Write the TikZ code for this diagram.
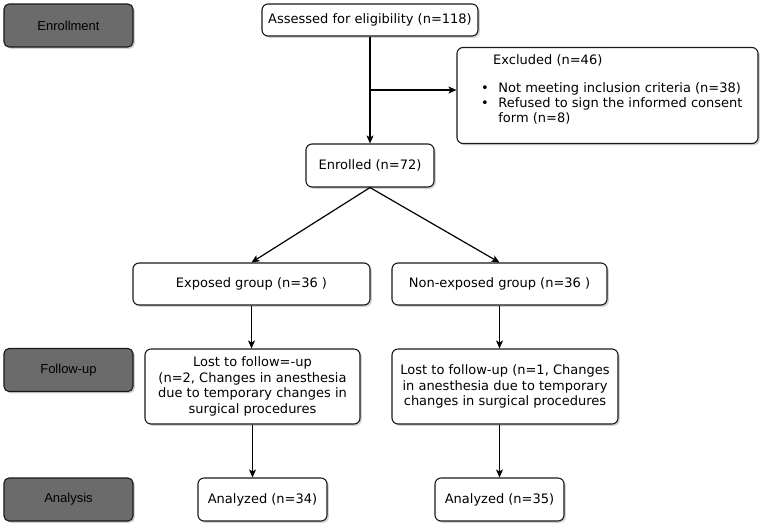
\documentclass[tikz,border=0pt]{standalone}
\usepackage{fontspec}
\setmainfont{DejaVu Sans}
\newfontfamily\arialfont{Liberation Sans}
\usetikzlibrary{shadows,arrows.meta}
\definecolor{phasegray}{HTML}{6B6B6B}
\tikzset{
  base/.style={draw=black!90, line width=1.1pt, rounded corners=6pt, align=center, inner sep=2pt,
    drop shadow={opacity=0.35, shadow xshift=1.8pt, shadow yshift=-1.8pt}},
  box/.style={base, fill=white, font=\fontsize{13}{16}\selectfont},
  phase/.style={base, fill=phasegray, rounded corners=5pt, minimum width=129pt, minimum height=43pt,
    font=\arialfont\fontsize{13}{15}\selectfont},
  arr/.style={line width=1.2pt, -{Stealth[length=8pt,width=7pt,inset=2pt]}}
}
\begin{document}
\begin{tikzpicture}[x=1pt,y=-1pt]
\useasboundingbox (0,0) rectangle (767,531);
% phase labels
\node[phase] (enr) at (68.5,25.5) {Enrollment};
\node[phase] (fu)  at (68.5,370) {Follow-up};
\node[phase] (ana) at (68.5,499.5) {Analysis};
% flow boxes
\node[box, minimum width=216pt, minimum height=32pt] (assess) at (370,20) {Assessed for eligibility (n=118)};
\node[box, minimum width=301pt, minimum height=96pt] (excl) at (607.5,95.5) {};
\node[anchor=north west, inner sep=0pt, font=\fontsize{13}{15}\selectfont, align=left] (excltxt) at (481,54)
  {\begin{tabular}{@{}l@{\hspace{9.5pt}}l@{}}
   \multicolumn{2}{@{}l}{\hspace{12pt}Excluded (n=46)}\\[13pt]
   \textbullet & Not meeting inclusion criteria (n=38)\\
   \textbullet & Refused to sign the informed consent\\
   & form (n=8)
   \end{tabular}};
\node[box, minimum width=128pt, minimum height=43pt] (enrolled) at (370,165.5) {Enrolled (n=72)};
\node[box, minimum width=237pt, minimum height=42pt] (exposed) at (251.5,284) {Exposed group (n=36 )};
\node[box, minimum width=215pt, minimum height=75pt, font=\fontsize{13}{15.5}\selectfont] (lostL) at (252.5,386.5)
  {Lost to follow=-up\\(n=2, Changes in anesthesia\\due to temporary changes in\\surgical procedures};
\node[box, minimum width=215pt, minimum height=42pt] (nonexp) at (499.5,284) {Non-exposed group (n=36 )};
\node[box, minimum width=226pt, minimum height=75pt, font=\fontsize{13}{15.5}\selectfont] (lostR) at (505,386.5)
  {Lost to follow-up (n=1, Changes\\in anesthesia due to temporary\\changes in surgical procedures};
\node[box, minimum width=129pt, minimum height=43pt] (anL) at (262.5,499.5) {Analyzed (n=34)};
\node[box, minimum width=129pt, minimum height=43pt] (anR) at (499.5,499.5) {Analyzed (n=35)};
% connectors
\coordinate (br) at (370,90);
\draw[arr] (assess.south) -- (enrolled.north);
\draw[arr] (br) -- (br -| excl.west);
\draw[arr] (enrolled.south) -- (exposed.north);
\draw[arr] (enrolled.south) -- (nonexp.north);
\draw[arr] (exposed.south) -- (exposed.south |- lostL.north);
\draw[arr] (nonexp.south) -- (nonexp.south |- lostR.north);
\draw[arr] (lostL.south) -- (lostL.south |- anL.north);
\draw[arr] (nonexp.south |- lostR.south) -- (nonexp.south |- anR.north);
\end{tikzpicture}
\end{document}
